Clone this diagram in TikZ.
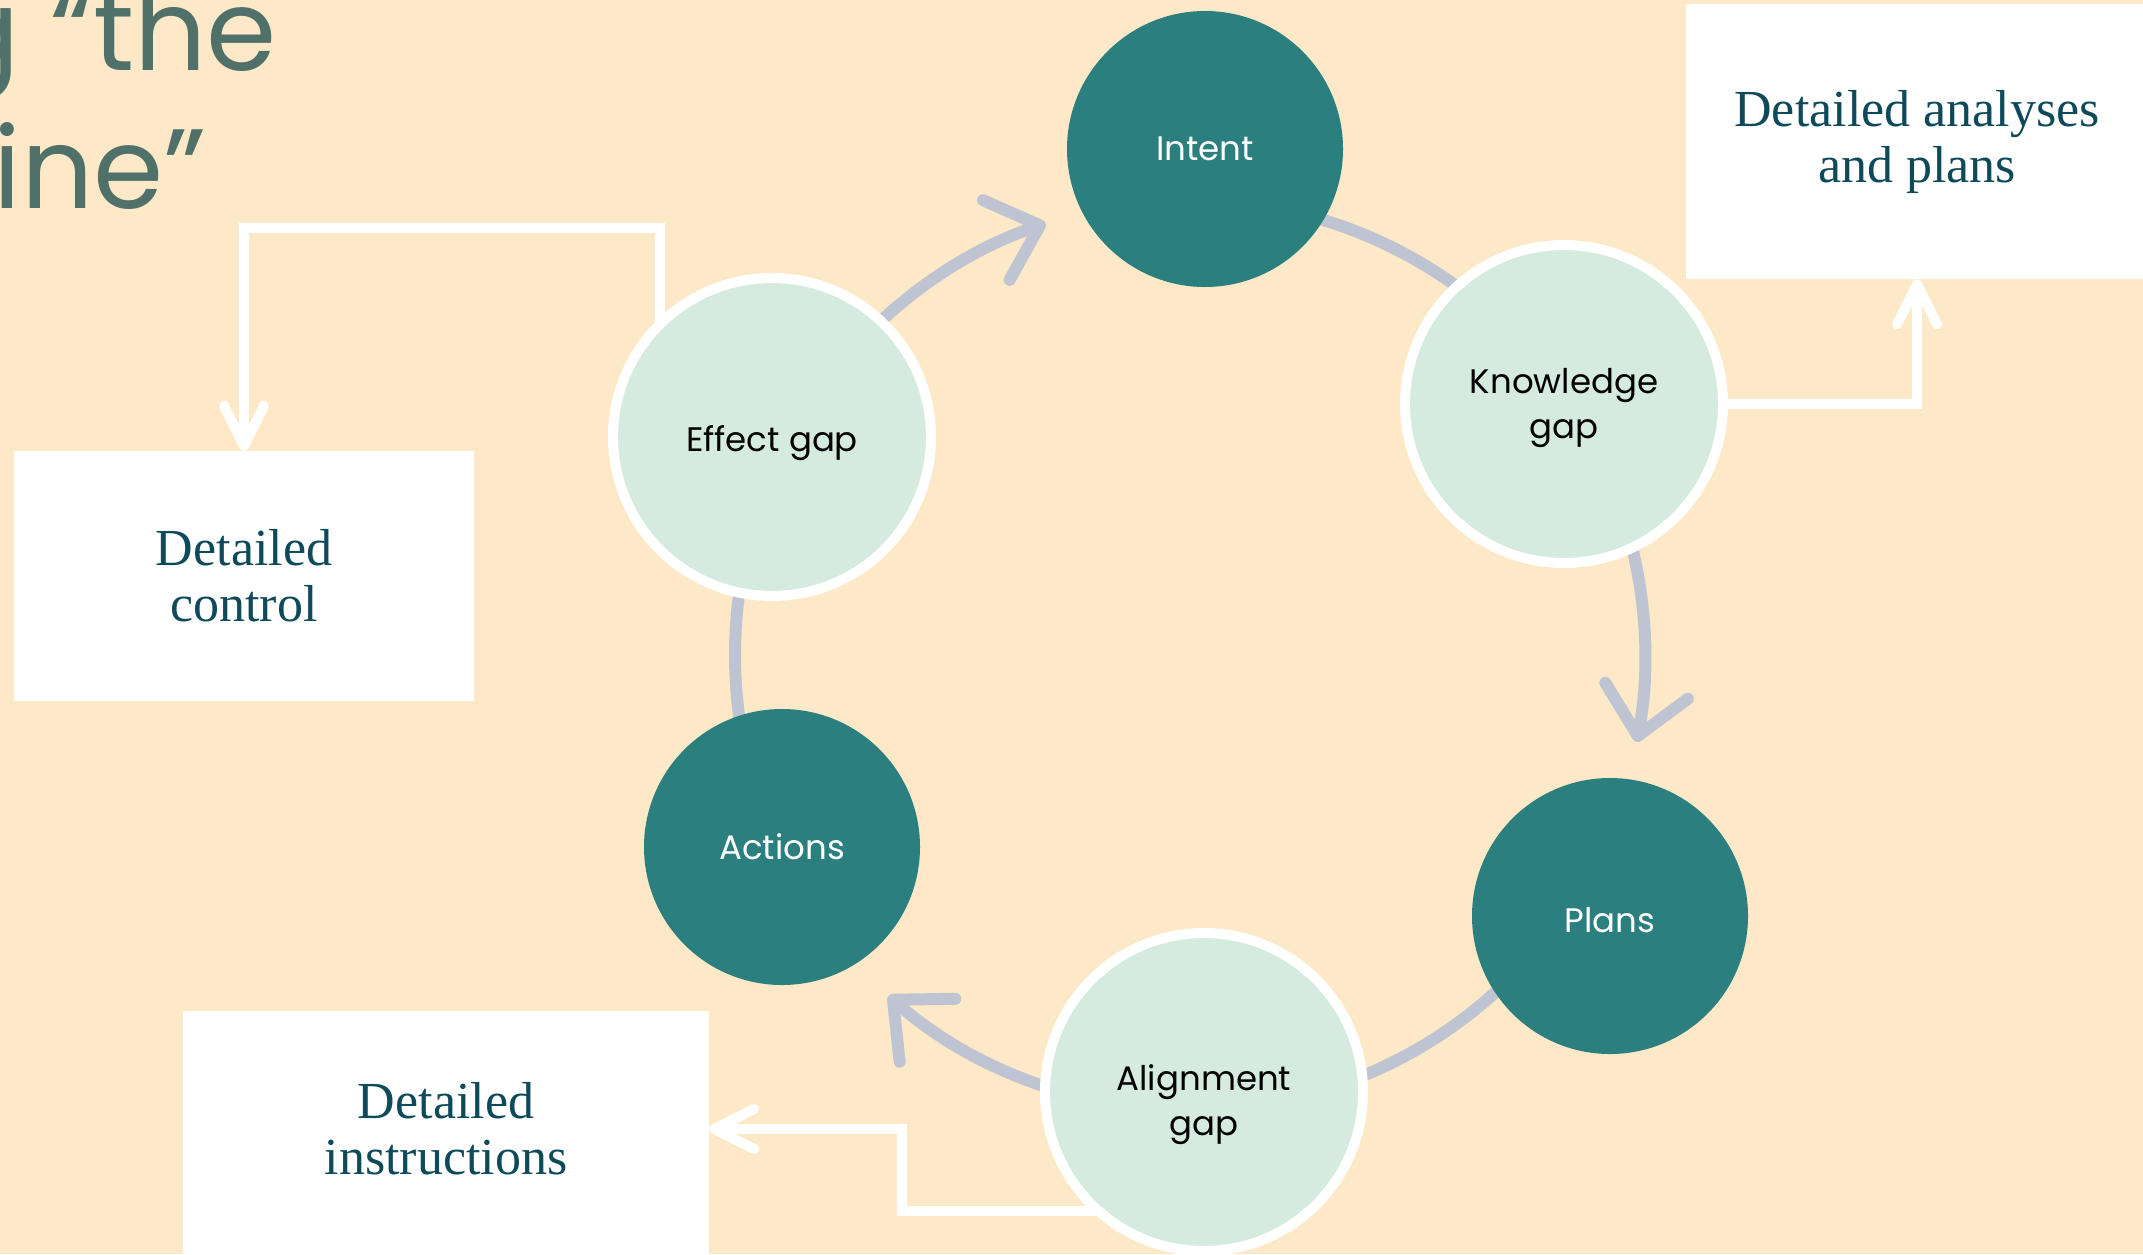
\documentclass[tikz,border=0pt]{standalone}
\usepackage{fontspec}
\setmainfont{Liberation Serif}
\newfontfamily\popf{Poppins}
\usetikzlibrary{arrows.meta,calc}
\definecolor{bgc}{HTML}{FDE8C7}
\definecolor{tealc}{HTML}{2B7F7E}
\definecolor{mintc}{HTML}{D5EBDF}
\definecolor{grayc}{HTML}{BEC4D2}
\definecolor{titlec}{HTML}{50706A}
\definecolor{boxtc}{HTML}{0F4A5A}
\pgfdeclarelayer{back}
\pgfdeclarelayer{mid}
\pgfsetlayers{back,mid,main}
\tikzset{
  darknode/.style={circle, fill=tealc, minimum size=276pt, inner sep=0pt},
  lightnode/.style={circle, fill=mintc, draw=white, line width=10pt, minimum size=318pt, inner sep=0pt},
  ctext/.style={inner sep=0pt, align=center, font=\popf\fontsize{34}{45}\selectfont},
  boxnode/.style={rectangle, fill=white, inner sep=0pt},
  boxtext/.style={text=boxtc, align=center, inner sep=0pt, font=\fontsize{52}{56}\selectfont},
  titletext/.style={text=titlec, inner sep=0pt, font=\popf\fontsize{113}{138}\selectfont},
  garrow/.style={draw=grayc, line width=12pt, line cap=round,
    -{Straight Barb[length=46pt,width=84pt,round]}},
  gline/.style={draw=grayc, line width=12pt, line cap=round},
  wconn/.style={draw=white, line width=10pt,
    -{Straight Barb[length=40pt,width=40pt,round]}}
}
\begin{document}
\begin{tikzpicture}[x=1pt,y=-1pt]
\begin{pgfonlayer}{back}
  \fill[bgc] (0,0) rectangle (2143,1254);
\end{pgfonlayer}
\useasboundingbox (0,0) rectangle (2143,1254);

% title (clipped at the left edge)
\node[titletext, anchor=base east] (t1) at (277,70) {g “the};
\node[titletext, anchor=base east] (t2) at (207,208) {ine”};

% cycle nodes
\node[darknode] (intent) at (1205,149) {};
\node[ctext, text=white] (intentL) at (intent) {Intent};
\node[lightnode] (kg) at (1564,404) {};
\node[ctext] (kgL) at ($(kg)+(0,4)$) {Knowledge\\gap};
\node[darknode] (plans) at (1610,916) {};
\node[ctext, text=white] (plansL) at ($(plans)+(0,4.5)$) {Plans};
\node[lightnode] (al) at (1204,1092) {};
\node[ctext] (alL) at ($(al)+(0,13)$) {Alignment\\gap};
\node[darknode] (act) at (782,847) {};
\node[ctext, text=white] (actL) at (act) {Actions};
\node[lightnode] (eff) at (772,437) {};
\node[ctext] (effL) at ($(eff)+(0,6.5)$) {Effect gap};

% boxes
\node[boxnode, minimum width=462pt, minimum height=275pt] (ana) at (1917,141.5) {};
\node[boxtext] (anat) at (ana.center) {Detailed analyses\\and plans};
\node[boxnode, minimum width=460pt, minimum height=250pt] (ctl) at (244,576) {};
\node[boxtext] (ctlt) at (ctl.center) {Detailed\\control};
\node[boxnode, minimum width=526pt, minimum height=260pt] (ins) at (446,1141) {};
\node[boxtext] (inst) at (446,1129) {Detailed\\instructions};

% cycle centre and bends
\coordinate (cyc) at (1190,655);
\coordinate (c1) at (660,228);
\coordinate (c3) at (902,1211);

\begin{pgfonlayer}{mid}
  % grey cycle arrows
  \draw[garrow] (cyc) ++(220:455) arc[start angle=220, end angle=251.5, radius=455];
  \draw[gline]  (cyc) ++(275:455) arc[start angle=275, end angle=320, radius=455];
  \draw[garrow] (cyc) ++(-15:455) arc[start angle=-15, end angle=11, radius=455];
  \draw[gline]  (cyc) ++(35:455) arc[start angle=35, end angle=85, radius=455];
  \draw[garrow] (cyc) ++(95:455) arc[start angle=95, end angle=131.5, radius=455];
  \draw[gline]  (cyc) ++(160:455) arc[start angle=160, end angle=200, radius=455];
  % white connectors
  \draw[wconn] (c1 |- eff.center) -- (c1) -| (ctl.north);
  \draw[wconn] (kg.center) -| (ana.south);
  \draw[wconn] (al.center |- c3) -- (c3) |- (inst -| ins.east);
\end{pgfonlayer}
\end{tikzpicture}
\end{document}
